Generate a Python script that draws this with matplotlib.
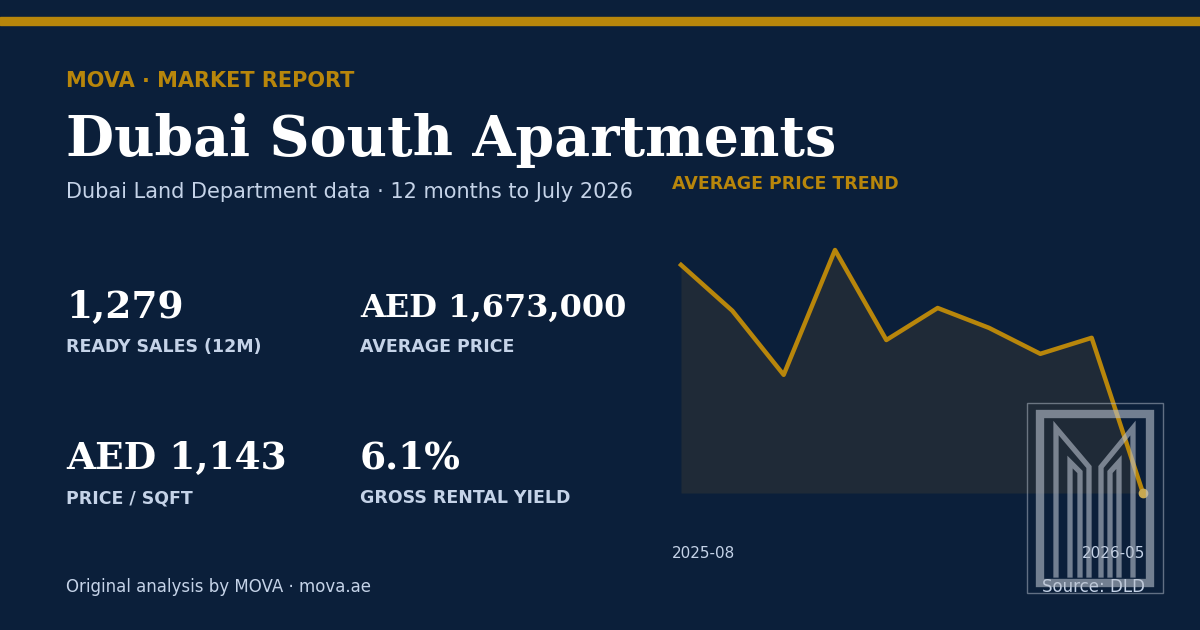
import matplotlib
matplotlib.use("Agg")
import matplotlib.pyplot as plt
from matplotlib.patches import Rectangle

months = ["2025-08", "2025-09", "2025-10", "2025-11", "2025-12",
          "2026-01", "2026-02", "2026-03", "2026-04", "2026-05"]
avg_price_m = [1.813, 1.730, 1.614, 1.840, 1.677, 1.735, 1.699, 1.652, 1.681, 1.400]

stats = [("1,279", "READY SALES (12M)"), ("AED 1,673,000", "AVERAGE PRICE"),
         ("AED 1,143", "PRICE / SQFT"), ("6.1%", "GROSS RENTAL YIELD")]
stat_sizes = [27, 23, 27, 27]

BG = "#0b1f3a"
GOLD = "#b8860b"
PALE = "#c5d3e8"

fig = plt.figure(figsize=(12, 6.3), dpi=100, facecolor=BG)

# overlay axes in pixel coordinates
ov = fig.add_axes([0, 0, 1, 1])
ov.set_xlim(0, 1200)
ov.set_ylim(630, 0)
ov.axis("off")
ov.add_patch(Rectangle((0, 17), 1200, 8, color=GOLD))

ov.text(66, 81, "MOVA · MARKET REPORT", color=GOLD, fontsize=15, fontweight="bold", va="center")
ov.text(66, 141, "Dubai South Apartments", color="white", fontsize=40, fontweight="bold",
        family="DejaVu Serif", va="center")
ov.text(66, 192, "Dubai Land Department data · 12 months to July 2026", color=PALE, fontsize=15, va="center")

pos = [(66, 307), (360, 308), (66, 458), (360, 458)]
for (x, y), (val, lab), fs in zip(pos, stats, stat_sizes):
    ov.text(x, y, val, color="white", fontsize=fs, fontweight="bold", family="DejaVu Serif", va="center")
    ov.text(x, 347 if y < 400 else 498, lab, color=PALE, fontsize=12.5, fontweight="bold", va="center")

ov.text(672, 184, "AVERAGE PRICE TREND", color=GOLD, fontsize=12.5, fontweight="bold", va="center")
ov.text(672, 553, months[0], color=PALE, fontsize=11, va="center")
ov.text(1145, 553, months[-1], color=PALE, fontsize=11, va="center", ha="right")
ov.text(66, 587, "Original analysis by MOVA · mova.ae", color=PALE, fontsize=12, va="center")
ov.text(1145, 587, "Source: DLD", color=PALE, fontsize=12, va="center", ha="right")

# trend chart
ax = fig.add_axes([681 / 1200, (630 - 493) / 630, 462 / 1200, 243 / 630])
ax.patch.set_alpha(0)
x = list(range(len(avg_price_m)))
ax.fill_between(x, avg_price_m, min(avg_price_m), color="#2e3336", alpha=0.6, lw=0)
ax.plot(x, avg_price_m, color=GOLD, lw=3.2, clip_on=False)
ax.plot(x[-1], avg_price_m[-1], "o", color="#c8a850", ms=6, clip_on=False)
ax.set_xlim(0, len(x) - 1)
ax.set_ylim(min(avg_price_m), max(avg_price_m))
ax.axis("off")

# logo overlay
lg = fig.add_axes([0, 0, 1, 1])
lg.set_xlim(0, 1200)
lg.set_ylim(630, 0)
lg.axis("off")
lc = "#b8c0cc"
lg.add_patch(Rectangle((1027, 403), 136, 190, fill=False, ec=lc, lw=1, alpha=0.5))
lg.add_patch(Rectangle((1040, 414), 110, 169, fill=False, ec=lc, lw=6, alpha=0.6))
for xs, ys in [([1056, 1056, 1089, 1089], [575, 428, 467, 575]),
               ([1133, 1133, 1101, 1101], [575, 428, 467, 575]),
               ([1070, 1070, 1080, 1080], [575, 462, 472, 575]),
               ([1119, 1119, 1110, 1110], [575, 462, 472, 575])]:
    lg.plot(xs, ys, color=lc, lw=3.8, alpha=0.6, solid_joinstyle="miter")

fig.savefig("out.png", dpi=100, facecolor=BG)
